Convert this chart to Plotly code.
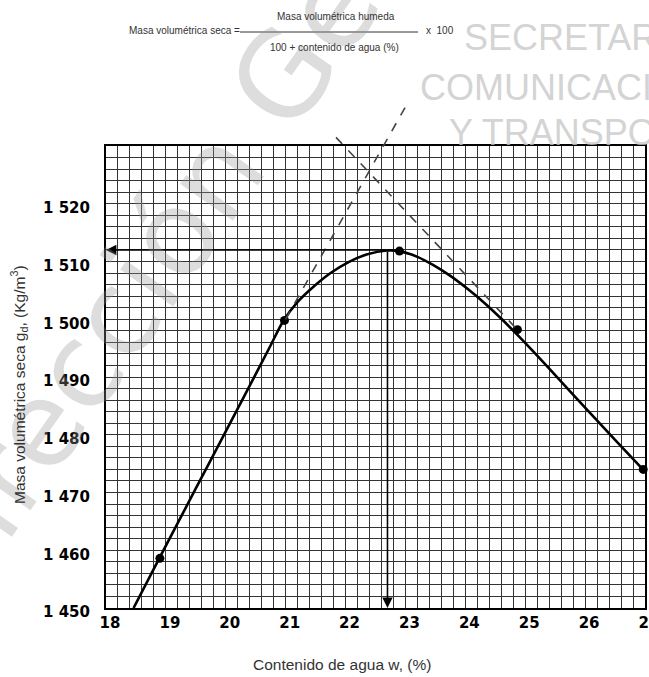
import plotly.graph_objects as go

# ---------------- data ----------------
points_x = [18.90, 20.98, 22.90, 24.87, 26.97]
points_y = [1458.6, 1499.8, 1511.8, 1498.2, 1474.0]

curve_x = [18.46, 18.90, 19.50, 20.00, 20.45, 20.75, 20.96, 21.20, 21.45, 21.75, 22.05, 22.35, 22.69,
           22.90, 23.20, 23.46, 23.75, 24.02, 24.30, 24.58, 24.87, 25.20, 25.60, 26.00, 26.50, 27.00]
curve_y = [1450.0, 1458.8, 1470.7, 1480.6, 1489.5, 1495.5, 1499.7, 1503.0, 1505.5, 1508.0, 1509.9, 1511.2, 1511.9,
           1511.8, 1510.8, 1509.4, 1507.5, 1505.4, 1503.0, 1500.3, 1497.3, 1493.7, 1489.2, 1484.7, 1479.1, 1473.6]

optimum_w = 22.70
optimum_gd = 1512.0

tangent1_x = [21.00, 23.05]
tangent1_y = [1500.0, 1537.7]
tangent2_x = [21.84, 24.85]
tangent2_y = [1531.5, 1498.4]

x_tick_vals = [18, 19, 20, 21, 22, 23, 24, 25, 26, 27]
x_tick_text = ["18", "19", "20", "21", "22", "23", "24", "25", "26", "27"]
y_tick_vals = [1450, 1460, 1470, 1480, 1490, 1500, 1510, 1520]
y_tick_text = ["1 450", "1 460", "1 470", "1 480", "1 490", "1 500", "1 510", "1 520"]

X_RANGE = [18.0, 27.0]
Y_RANGE = [1450.0, 1530.0]

# ---------------- layout geometry (page pixels) ----------------
W, H = 649, 677
PLOT_L, PLOT_T, PLOT_R, PLOT_B = 106, 146, 645, 608
ML, MT = PLOT_L, PLOT_T
PW, PH = PLOT_R - PLOT_L, PLOT_B - PLOT_T
MR, MB = W - ML - PW, H - MT - PH


def px_x(px):
    return (px - PLOT_L) / PW


def px_y(py):
    return (PLOT_B - py) / PH


def dx(v):
    return (v - X_RANGE[0]) / (X_RANGE[1] - X_RANGE[0])


def dy(v):
    return (v - Y_RANGE[0]) / (Y_RANGE[1] - Y_RANGE[0])


GRID = "#333333"
fig = go.Figure()

fig.add_trace(go.Scatter(x=curve_x, y=curve_y, mode="lines",
                         line=dict(color="black", width=2.6, shape="spline", smoothing=0.8),
                         hoverinfo="skip", showlegend=False))
fig.add_trace(go.Scatter(x=points_x, y=points_y, mode="markers",
                         marker=dict(color="black", size=9), cliponaxis=False,
                         showlegend=False))

shapes = []
for tx, ty in ((tangent1_x, tangent1_y), (tangent2_x, tangent2_y)):
    shapes.append(dict(type="line", xref="paper", yref="paper",
                       x0=dx(tx[0]), y0=dy(ty[0]), x1=dx(tx[1]), y1=dy(ty[1]),
                       line=dict(color="#444", width=1.6, dash="dash")))
# fraction bar of the formula
shapes.append(dict(type="line", xref="paper", yref="paper",
                   x0=px_x(240), x1=px_x(418), y0=px_y(32), y1=px_y(32),
                   line=dict(color="#333", width=1)))

ann = []
# arrows from the optimum
ann.append(dict(x=X_RANGE[0], y=optimum_gd, ax=optimum_w, ay=optimum_gd,
                xref="x", yref="y", axref="x", ayref="y", text="", showarrow=True,
                arrowhead=2, arrowsize=1.3, arrowwidth=1.6, arrowcolor="black"))
ann.append(dict(x=optimum_w, y=Y_RANGE[0], ax=optimum_w, ay=optimum_gd,
                xref="x", yref="y", axref="x", ayref="y", text="", showarrow=True,
                arrowhead=2, arrowsize=1.3, arrowwidth=1.6, arrowcolor="black"))

# watermark
wm = "rgba(150,150,150,0.32)"
ann.append(dict(text="Dirección General", xref="paper", yref="paper",
                x=px_x(222), y=px_y(165), xanchor="center", yanchor="middle",
                showarrow=False, textangle=-55,
                font=dict(family="DejaVu Sans", size=118, color=wm)))
for txt, x0, yc in (("SECRETARÍA", 462, 38), ("COMUNICACIONES", 418, 87), ("Y TRANSPORTES", 447, 133)):
    ann.append(dict(text=txt, xref="paper", yref="paper", x=px_x(x0), y=px_y(yc),
                    xanchor="left", yanchor="middle", showarrow=False,
                    font=dict(family="Liberation Sans", size=36, color="rgba(200,200,200,0.8)")))

# formula
ff = dict(family="Liberation Sans", size=10, color="#333")
ann.append(dict(text="Masa volumétrica seca =", xref="paper", yref="paper",
                x=px_x(242), y=px_y(31), xanchor="right", yanchor="middle",
                showarrow=False, font=ff))
ann.append(dict(text="Masa volumétrica humeda", xref="paper", yref="paper",
                x=px_x(336), y=px_y(16), xanchor="center", yanchor="middle",
                showarrow=False, font=ff))
ann.append(dict(text="100 + contenido de agua (%)", xref="paper", yref="paper",
                x=px_x(334), y=px_y(48), xanchor="center", yanchor="middle",
                showarrow=False, font=ff))
ann.append(dict(text="x  100", xref="paper", yref="paper",
                x=px_x(424), y=px_y(31), xanchor="left", yanchor="middle",
                showarrow=False, font=ff))

# axis titles
tf = dict(family="Liberation Sans", size=15.5, color="#333")
ann.append(dict(text="Contenido de agua w, (%)", xref="paper", yref="paper",
                x=px_x(342), y=px_y(664), xanchor="center", yanchor="middle",
                showarrow=False, font=tf))
ann.append(dict(text="Masa volumétrica seca g<sub>d</sub>, (Kg/m<sup>3</sup>)",
                xref="paper", yref="paper", x=px_x(19), y=px_y(385),
                xanchor="center", yanchor="middle", textangle=-90,
                showarrow=False, font=tf))

tick_font = dict(family="DejaVu Sans", size=15, color="black", weight="bold")

fig.update_layout(
    width=W, height=H,
    margin=dict(l=ML, r=MR, t=MT, b=MB, pad=0, autoexpand=False),
    paper_bgcolor="white", plot_bgcolor="white",
    shapes=shapes, annotations=ann, showlegend=False,
    xaxis=dict(range=X_RANGE, tickvals=x_tick_vals, ticktext=x_tick_text,
               showgrid=True, gridcolor=GRID, gridwidth=1.4,
               minor=dict(dtick=0.2, tick0=18, showgrid=True, gridcolor=GRID, gridwidth=1.4),
               showline=True, linecolor="black", linewidth=2, mirror=True,
               ticks="", tickfont=tick_font, zeroline=False, automargin=False,
               ticklabelshift=4, ticklabelstandoff=0, ticklabeloverflow="allow"),
    yaxis=dict(range=Y_RANGE, tickvals=y_tick_vals, ticktext=y_tick_text,
               showgrid=True, gridcolor=GRID, gridwidth=1.4,
               minor=dict(dtick=2, tick0=1450, showgrid=True, gridcolor=GRID, gridwidth=1.4),
               showline=True, linecolor="black", linewidth=2, mirror=True,
               ticks="", tickfont=tick_font, zeroline=False, automargin=False,
               ticklabelstandoff=11, ticklabelshift=4, ticklabeloverflow="allow"),
)

page_fix = ("document.body.style.margin='0';"
            "document.documentElement.style.overflow='hidden';"
            "document.body.style.overflow='hidden';")
fig.write_html("out.html", post_script=page_fix, config={"displayModeBar": False})
